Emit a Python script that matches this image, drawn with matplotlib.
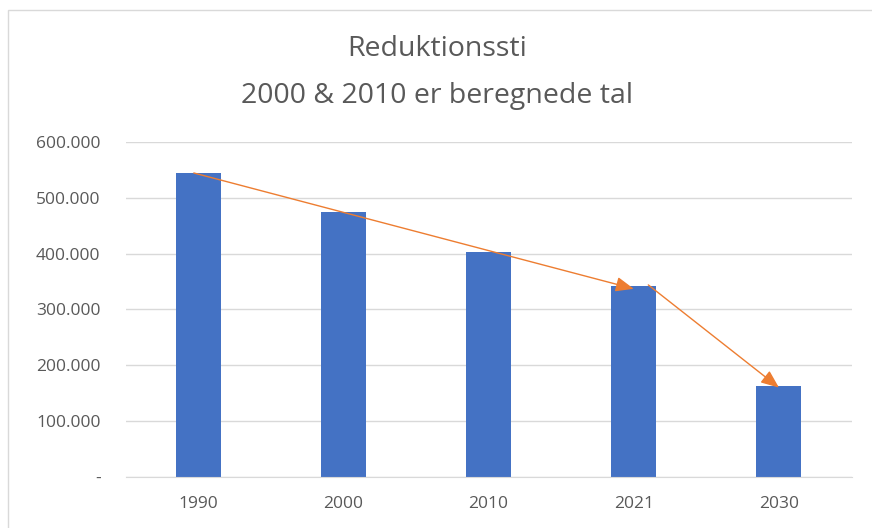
import matplotlib.pyplot as plt
from matplotlib.patches import Rectangle
from matplotlib.ticker import FuncFormatter

years = ['1990', '2000', '2010', '2021', '2030']
values = [544500, 474500, 403000, 342000, 163000]
y_ticks = [0, 100000, 200000, 300000, 400000, 500000, 600000]


def fmt(v, pos):
    if v == 0:
        return '-'
    return '{:,.0f}'.format(v).replace(',', '.')


def main():
    plt.rcParams['font.family'] = ['Open Sans', 'DejaVu Sans']
    fig = plt.figure(figsize=(8.72, 5.28), dpi=100)
    fig.patches.append(Rectangle((8 / 872, -0.1), 1.0, 1 - 10 / 528 + 0.1,
                                 transform=fig.transFigure, fill=False,
                                 ec='#D9D9D9', lw=1))
    ax = fig.add_axes([0.144, 0.0966, 0.8326, 0.6345])

    xs = list(range(len(years)))
    ax.bar(xs, values, width=0.31, color='#4472C4', zorder=2)

    ax.set_xlim(-0.5, len(years) - 0.5)
    ax.set_ylim(0, 600000)
    ax.set_yticks(y_ticks)
    ax.yaxis.set_major_formatter(FuncFormatter(fmt))
    ax.set_xticks(xs)
    ax.set_xticklabels(years)
    ax.grid(axis='y', color='#D9D9D9', lw=1, zorder=0)
    for s in ['top', 'right', 'left']:
        ax.spines[s].set_visible(False)
    ax.spines['bottom'].set_color('#D9D9D9')
    ax.tick_params(length=0, colors='#595959', labelsize=12.5)
    ax.tick_params(axis='y', pad=18)
    ax.tick_params(axis='x', pad=14)

    arrow = dict(arrowstyle='-|>,head_length=1.1,head_width=0.45',
                 color='#ED7D31', lw=1, shrinkA=0, shrinkB=0)
    ax.annotate('', xy=(xs[3], values[3] - 5000), xytext=(xs[0] - 0.03, values[0]),
                arrowprops=arrow, zorder=3)
    ax.annotate('', xy=(xs[4], values[4] - 3000), xytext=(xs[3] + 0.1, values[3] + 2000),
                arrowprops=arrow, zorder=3)

    fig.text(0.501, 0.907, 'Reduktionssti', ha='center', va='center',
             fontsize=20.5, color='#595959')
    fig.text(0.501, 0.818, '2000 & 2010 er beregnede tal', ha='center',
             va='center', fontsize=20.5, color='#595959')

    fig.savefig('out.png', dpi=100)


if __name__ == '__main__':
    main()
